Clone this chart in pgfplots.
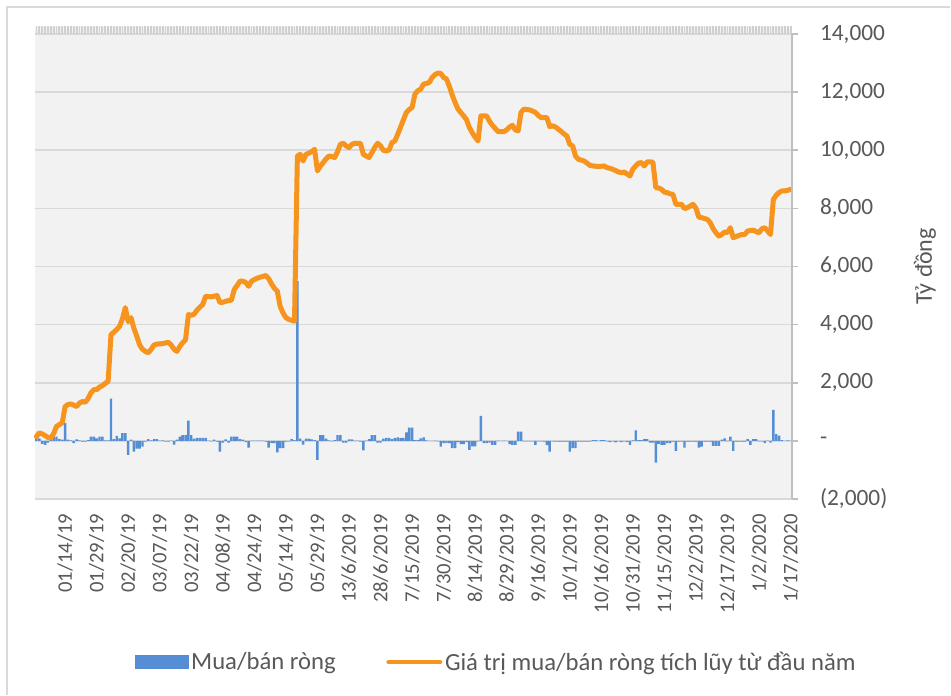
\documentclass[border=0pt]{standalone}
\usepackage{pgfplots}
\pgfplotsset{compat=1.18}
\usepackage{pgfplotstable}
\usepackage{fontspec}
\setmainfont{Carlito}
\definecolor{plotbg}{HTML}{F2F2F2}
\definecolor{gridgray}{HTML}{D9D9D9}
\definecolor{tickgray}{HTML}{D0D0D0}
\definecolor{axisgray}{HTML}{BFBFBF}
\definecolor{textgray}{HTML}{595959}
\definecolor{barblue}{HTML}{558ED5}
\definecolor{lineorange}{HTML}{F7941D}
\pgfplotstableread{
i b c
0 90 150
1 90 275
2 -100 240
3 -140 180
4 -60 120
5 30 100
6 150 250
7 150 500
8 60 560
9 40 620
10 610 1180
11 40 1250
12 20 1270
13 -80 1230
14 50 1180
15 20 1300
16 -30 1355
17 -30 1330
18 30 1450
19 150 1650
20 150 1760
21 90 1760
22 150 1850
23 150 1900
24 20 1980
25 20 2045
26 1450 3655
27 60 3740
28 170 3830
29 90 3940
30 265 4200
31 265 4585
32 -480 4100
33 40 4240
34 -370 3870
35 -270 3600
36 -270 3300
37 -200 3150
38 -30 3080
39 60 3030
40 20 3150
41 60 3300
42 60 3330
43 10 3340
44 20 3345
45 -30 3370
46 -30 3390
47 10 3300
48 -130 3150
49 40 3080
50 150 3250
51 200 3380
52 200 3480
53 700 4345
54 200 4320
55 80 4360
56 100 4500
57 100 4600
58 100 4690
59 100 4975
60 10 4965
61 -20 4955
62 40 4980
63 -30 5000
64 -370 4760
65 -60 4770
66 50 4800
67 -60 4830
68 150 4840
69 150 5210
70 150 5350
71 60 5495
72 40 5495
73 -40 5450
74 -230 5320
75 10 5495
76 10 5550
77 10 5600
78 10 5630
79 10 5660
80 -30 5690
81 -230 5580
82 -80 5400
83 -80 5250
84 -400 5150
85 -250 4630
86 -250 4400
87 -30 4240
88 -20 4180
89 60 4150
90 30 4115
91 5500 9800
92 80 9860
93 -130 9630
94 80 9860
95 80 9900
96 50 9950
97 30 10035
98 -650 9290
99 200 9450
100 200 9575
101 80 9700
102 20 9800
103 -20 9780
104 30 9750
105 200 9950
106 200 10205
107 -60 10240
108 -60 10150
109 50 10090
110 50 10200
111 10 10240
112 10 10240
113 -30 10240
114 -330 9860
115 10 9800
116 60 9750
117 200 9920
118 200 10100
119 -60 10240
120 -60 10150
121 80 10000
122 100 9975
123 100 10010
124 60 10265
125 100 10320
126 120 10550
127 100 10800
128 100 11050
129 290 11300
130 460 11400
131 460 11470
132 30 11930
133 30 12050
134 90 12100
135 120 12275
136 20 12300
137 0 12330
138 0 12505
139 10 12600
140 -20 12655
141 -200 12645
142 -80 12505
143 -80 12450
144 -80 12200
145 -250 11900
146 -250 11645
147 -40 11420
148 -110 11300
149 -110 11180
150 -40 11050
151 -310 10780
152 -190 10600
153 -190 10450
154 -20 10320
155 860 11180
156 -80 11180
157 -80 11180
158 -60 11000
159 -140 10860
160 -140 10750
161 10 10640
162 0 10640
163 10 10640
164 0 10700
165 -110 10800
166 -140 10860
167 -140 10700
168 320 10670
169 320 11300
170 -20 11415
171 -20 11400
172 -20 11390
173 -20 11350
174 -140 11300
175 -20 11200
176 -20 11125
177 -30 11125
178 -150 11125
179 -370 10815
180 -20 10840
181 -30 10800
182 -30 10725
183 -30 10650
184 -30 10560
185 -30 10490
186 -370 10200
187 -250 10150
188 -250 9800
189 -30 9690
190 -30 9660
191 -30 9630
192 -30 9560
193 -30 9480
194 30 9460
195 30 9450
196 10 9440
197 30 9450
198 30 9460
199 -20 9400
200 -40 9380
201 -20 9345
202 -50 9300
203 -20 9250
204 -40 9230
205 -20 9250
206 -40 9180
207 -140 9115
208 20 9350
209 360 9460
210 30 9560
211 30 9575
212 60 9460
213 60 9600
214 -60 9600
215 -60 9590
216 -750 8710
217 -100 8700
218 -140 8655
219 -140 8560
220 -80 8540
221 -80 8500
222 -30 8480
223 -345 8140
224 -30 8140
225 -30 8140
226 -230 7990
227 -30 8025
228 -30 8080
229 -30 8140
230 -30 8000
231 -230 7700
232 -200 7680
233 -30 7650
234 -30 7620
235 -30 7505
236 -170 7300
237 -170 7160
238 -170 7045
239 40 7100
240 90 7185
241 -20 7170
242 150 7335
243 -345 6990
244 -30 7030
245 -30 7070
246 -30 7100
247 -30 7100
248 60 7220
249 -140 7240
250 60 7250
251 60 7200
252 -20 7160
253 -20 7300
254 -80 7335
255 10 7220
256 -60 7100
257 1070 8310
258 230 8450
259 180 8550
260 30 8600
261 0 8600
262 20 8620
263 10 8655
}\data
\begin{document}
\begin{tikzpicture}
\path[use as bounding box] (-26.25pt,-147.75pt) rectangle (687pt,374.25pt);
\fill[white] (-26.25pt,-147.75pt) rectangle (687pt,374.25pt);
\draw[gridgray, line width=1.5pt] (686pt,369pt) -- (-21pt,369pt) -- (-21pt,-147pt);
\fill[plotbg] (0pt,0pt) rectangle (567.75pt,354pt);
\begin{axis}[
  at={(0pt,0pt)}, anchor=south west,
  scale only axis, width=567.75pt, height=348.75pt,
  xmin=-0.5, xmax=263.5, ymin=-2000, ymax=14000,
  scaled y ticks=false,
  axis line style={draw=none},
  xtick={10,21,...,263},
  xticklabels={01/14/19,01/29/19,02/20/19,03/07/19,03/22/19,04/08/19,04/24/19,05/14/19,05/29/19,13/6/2019,28/6/2019,7/15/2019,7/30/2019,8/14/2019,8/29/2019,9/16/2019,10/1/2019,10/16/2019,10/31/2019,11/15/2019,12/2/2019,12/17/2019,1/2/2020,1/17/2020},
  minor xtick={0,...,263},
  xtick pos=right, xticklabel pos=left,
  ytick={-2000,0,2000,4000,6000,8000,10000,12000,14000},
  yticklabels={{(2,000)},{-},{2,000},{4,000},{6,000},{8,000},{10,000},{12,000},{14,000}},
  ytick pos=right, yticklabel pos=right,
  tick align=outside,
  major x tick style={draw=none},
  minor x tick style={draw=tickgray, line width=1.4pt},
  major y tick style={draw=axisgray, line width=1.2pt},
  minor tick length=6pt,
  major tick length=4.5pt,
  ymajorgrids,
  grid style={gridgray, line width=1.3pt},
  tick label style={text=textgray},
  xticklabel style={font=\fontsize{15.5}{18}\selectfont, yshift=-3pt, rotate=90, anchor=east},
  yticklabel style={font=\fontsize{17.5}{20}\selectfont, anchor=west, xshift=13pt},
  ylabel={Tỷ đồng},
  every axis y label/.style={at={(rel axis cs:1,0.5)}, xshift=99.75pt, rotate=90, anchor=center, font=\fontsize{18}{21}\selectfont, text=textgray},
  legend columns=2,
  legend style={at={(0.132,-0.3505)}, anchor=west, draw=none, fill=none, inner sep=0pt,
    font=\fontsize{18.5}{21}\selectfont, text=textgray,
    /tikz/every even column/.append style={column sep=36pt}},
  legend cell align=left,
  clip=false,
]
\addplot[ybar, bar width=0.85, bar shift=0pt, fill=barblue, draw=none,
  legend image code/.code={\fill[barblue] (0pt,-5pt) rectangle (40pt,5pt);}]
  table[x=i, y=b] {\data};
\addlegendentry{Mua/bán ròng}
\addplot[lineorange, line width=3.75pt, line join=round, line cap=round, mark=none,
  legend image code/.code={\draw[lineorange, line width=3pt, line cap=round] (0pt,0pt) -- (39pt,0pt);}]
  table[x=i, y=c] {\data};
\addlegendentry{Giá trị mua/bán ròng tích lũy từ đầu năm}
\end{axis}
\draw[axisgray, line width=1.2pt] (567.75pt,0pt) -- (567.75pt,348.75pt);
\end{tikzpicture}
\end{document}
